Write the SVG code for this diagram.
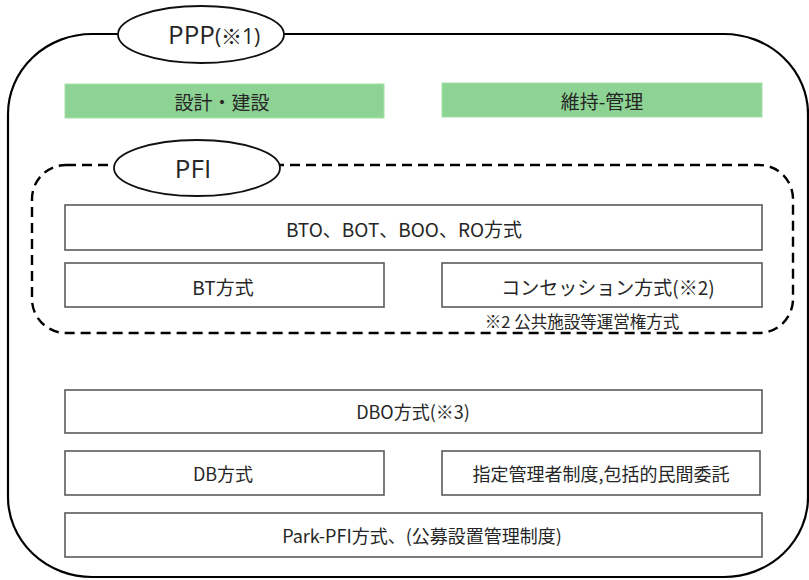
<svg xmlns="http://www.w3.org/2000/svg" width="809" height="580" viewBox="0 0 809 580">
<style>
text{font-family:"Noto Sans CJK JP","Noto Sans",sans-serif;fill:#262626;}
.box{fill:#fff;stroke:#5a5a5a;stroke-width:1.6;}
.green{fill:#8dd494;stroke:#a6dfaa;stroke-width:1;}
.lbl{font-size:19px;text-anchor:middle;dominant-baseline:central;}
.low{font-size:18px;}
.ell{fill:#fff;stroke:#111;stroke-width:1.8;}
</style>
<rect width="809" height="580" fill="#fff"/>
<g id="ppp-frame">
<rect x="8" y="34" width="800" height="543" rx="84" ry="80" fill="none" stroke="#000" stroke-width="2.2"/>
</g>
<g id="pfi-frame">
<rect x="32" y="165" width="761" height="168" rx="34" ry="34" fill="none" stroke="#000" stroke-width="2.4" stroke-dasharray="10,6"/>
</g>
<g id="ppp-label">
<ellipse class="ell" cx="201" cy="34.5" rx="83" ry="28.5"/>
<text x="168" y="44" style="font-size:26px;font-family:'Open Sans','Noto Sans CJK JP',sans-serif">PPP<tspan style="font-size:21px">(※1)</tspan></text>
</g>
<g id="design-build">
<rect class="green" x="65" y="84" width="319" height="34"/>
<text class="lbl" x="222" y="101">設計・建設</text>
</g>
<g id="maintain-manage">
<rect class="green" x="442" y="83" width="320" height="34"/>
<text class="lbl" x="602" y="100">維持-管理</text>
</g>
<g id="pfi-label">
<ellipse class="ell" cx="197" cy="168" rx="83" ry="28"/>
<text x="193" y="178" style="font-size:26px;text-anchor:middle;font-family:'Open Sans','Noto Sans CJK JP',sans-serif">PFI</text>
</g>
<g id="bto">
<rect class="box" x="65" y="205" width="697" height="45"/>
<text class="lbl" x="404" y="228">BTO、BOT、BOO、RO方式</text>
</g>
<g id="bt">
<rect class="box" x="65" y="263" width="319" height="44"/>
<text class="lbl" x="223" y="286">BT方式</text>
</g>
<g id="concession">
<rect class="box" x="442" y="263" width="320" height="44"/>
<text class="lbl" x="608" y="286">コンセッション方式(※2)</text>
</g>
<g id="note2">
<text x="582" y="321" style="font-size:16.5px;text-anchor:middle;dominant-baseline:central">※2 公共施設等運営権方式</text>
</g>
<g id="dbo">
<rect class="box" x="65" y="390" width="697" height="43"/>
<text class="lbl low" x="413" y="411">DBO方式(※3)</text>
</g>
<g id="db">
<rect class="box" x="65" y="451" width="319" height="44"/>
<text class="lbl low" x="223" y="473">DB方式</text>
</g>
<g id="designated">
<rect class="box" x="442" y="451" width="318" height="44"/>
<text class="lbl low" x="601" y="473">指定管理者制度,包括的民間委託</text>
</g>
<g id="park-pfi">
<rect class="box" x="65" y="513" width="697" height="44"/>
<text class="lbl low" x="422" y="535">Park-PFI方式、(公募設置管理制度)</text>
</g>
<g id="connectors"></g>
</svg>
